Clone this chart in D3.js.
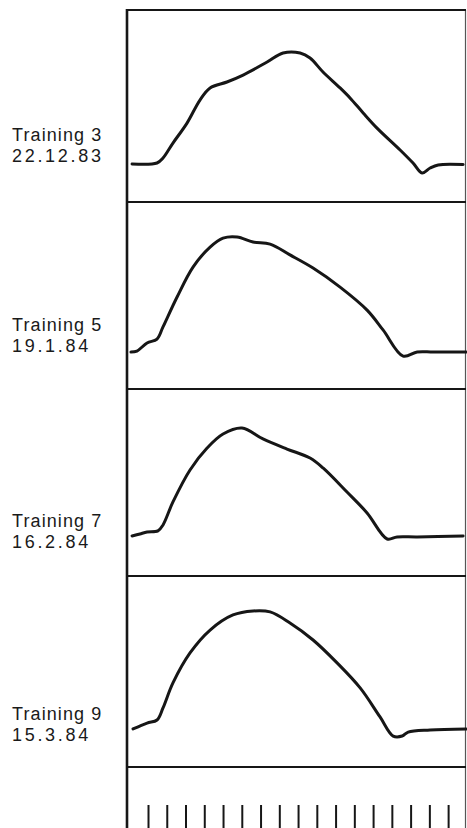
<!DOCTYPE html>
<html>
<head>
<meta charset="utf-8">
<script src="https://cdn.jsdelivr.net/npm/d3@7"></script>
<style>
  body { margin: 0; background: #fff; }
  svg { display: block; }
  .label { font-family: "Liberation Sans", Arial, sans-serif; font-size: 18px; fill: #1a1a1a; }
</style>
</head>
<body>
<div id="plot"></div>
<script>
// Force curves of four trainings, time in tick units, force as % of panel height

var sessions = ["Training 3", "Training 5", "Training 7", "Training 9"];
var dates = ["22.12.83", "19.1.84", "16.2.84", "15.3.84"];

var training3 = [
  [-0.85, 19.8], [0.48, 20.3], [0.8, 22.9], [1.33, 30.7], [2.08, 41.1], [2.77, 53.1],
  [3.31, 59.4], [4.21, 62.5], [5.07, 66.1], [6.35, 72.9], [7.2, 77.6], [8.11, 77.6],
  [8.64, 75], [9.33, 67.7], [10.24, 59.4], [10.77, 54.2], [11.47, 46.4], [12.21, 38.5],
  [13.44, 27.1], [14.13, 20.3], [14.61, 15.1], [15.04, 17.7], [15.47, 19.3], [16.8, 19.5]
];
var training5 = [
  [-0.91, 19.8], [-0.59, 20.3], [-0.05, 24.6], [0.48, 26.7], [0.8, 33.2], [1.55, 49.2],
  [2.4, 65.2], [3.31, 75.9], [4.0, 80.7], [4.75, 81.3], [5.6, 78.6], [6.51, 77.5],
  [7.57, 71.7], [8.8, 64.7], [10.24, 54.5], [11.68, 42.2], [12.53, 31.6], [13.6, 17.6],
  [14.35, 19.8], [15.2, 19.8], [16.96, 19.8]
];
var training7 = [
  [-0.85, 21.4], [-0.43, 22.5], [-0.05, 23.5], [0.53, 24.1], [0.8, 27.3], [1.33, 39.6],
  [2.24, 56.7], [3.15, 68.4], [4.0, 75.9], [5.01, 79.1], [6.13, 73.3], [7.41, 67.9],
  [8.64, 63.1], [9.33, 57.8], [10.61, 44.9], [11.68, 33.7], [12.75, 19.8], [13.28, 20.9],
  [14.35, 20.9], [16.8, 21.4]
];
var training9 = [
  [-0.8, 19.9], [-0.05, 23.0], [0.48, 24.6], [0.8, 30.9], [1.33, 44.0], [2.24, 59.7],
  [3.31, 71.7], [4.53, 79.6], [5.6, 81.7], [6.51, 81.2], [7.57, 75.4], [8.8, 66.5],
  [10.08, 54.5], [11.31, 41.4], [12.37, 26.2], [13.07, 16.2], [13.55, 16.2], [13.87, 18.3],
  [15.04, 19.4], [16.96, 19.9]
];
var timeTicks = [0, 1, 2, 3, 4, 5, 6, 7, 8, 9, 10, 11, 12, 13, 14, 15, 16];

var series = [training3, training5, training7, training9];

var svgWidth = 467;
var svgHeight = 828;
var left = 127, right = 465;
var panelEdges = [10, 202, 389, 576, 767];
var dateOffsets = [40, 37, 28, 26];

var svg = d3.select("#plot")
  .append("svg")
  .attr("width", svgWidth)
  .attr("height", svgHeight);

var xScale = d3.scaleLinear()
  .domain([-1.12, 16.9])
  .range([left, right]);

var ink = "#161616";

// panel frame lines
svg.append("line")
  .attr("x1", left).attr("x2", left)
  .attr("y1", panelEdges[0] - 1).attr("y2", svgHeight)
  .attr("stroke", ink).attr("stroke-width", 2.6);

svg.append("line")
  .attr("x1", right + 0.5).attr("x2", right + 0.5)
  .attr("y1", panelEdges[0]).attr("y2", svgHeight)
  .attr("stroke", "#555").attr("stroke-width", 1.2);

svg.selectAll(".divider")
  .data(panelEdges)
  .enter()
  .append("line")
  .attr("class", "divider")
  .attr("x1", left).attr("x2", right + 1)
  .attr("y1", d => d).attr("y2", d => d)
  .attr("stroke", ink)
  .attr("stroke-width", 2);

series.forEach(function (data, i) {
  var top = panelEdges[i], bottom = panelEdges[i + 1];
  var yScale = d3.scaleLinear()
    .domain([0, 100])
    .range([bottom, top]);

  var line = d3.line()
    .x(d => xScale(d[0]))
    .y(d => yScale(d[1]))
    .curve(d3.curveCatmullRom.alpha(0.5));

  svg.append("path")
    .datum(data)
    .attr("d", line)
    .attr("fill", "none")
    .attr("stroke", ink)
    .attr("stroke-width", 3)
    .attr("stroke-linejoin", "round")
    .attr("stroke-linecap", "round");

  // two separate lines of label text
  svg.append("text")
    .attr("class", "label")
    .attr("x", 12)
    .attr("y", bottom - dateOffsets[i] - 21)
    .attr("letter-spacing", 1.1)
    .text(sessions[i]);

  svg.append("text")
    .attr("class", "label")
    .attr("x", 12)
    .attr("y", bottom - dateOffsets[i])
    .attr("letter-spacing", 2.7)
    .text(dates[i]);
});

// time marker ticks at the bottom
var timeAxis = d3.axisBottom(xScale)
  .tickValues(timeTicks)
  .tickSize(26)
  .tickFormat("");

var axisG = svg.append("g")
  .attr("transform", `translate(0, 805)`)
  .call(timeAxis);

axisG.select(".domain").remove();
axisG.selectAll(".tick line")
  .attr("stroke", ink)
  .attr("stroke-width", 2);
</script>
</body>
</html>
